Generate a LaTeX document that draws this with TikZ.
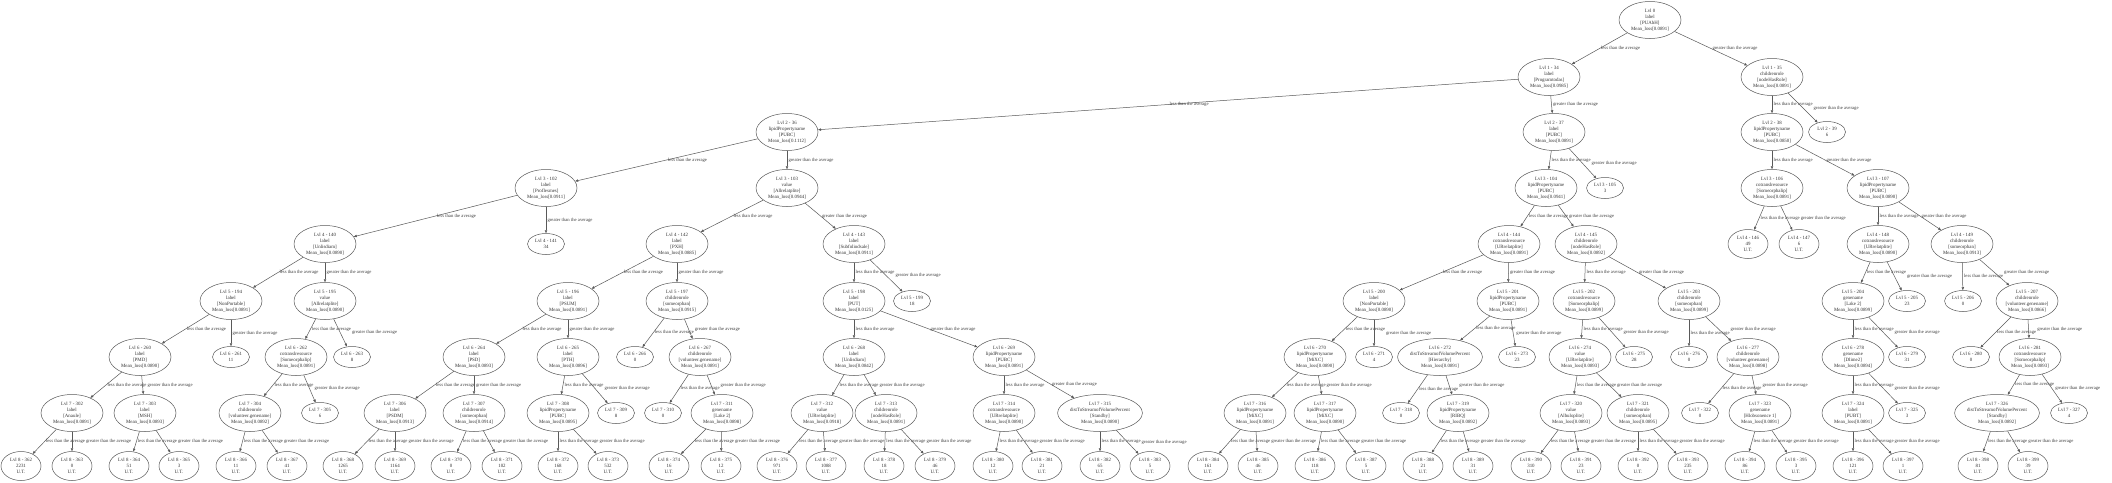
\documentclass[tikz,border=0pt]{standalone}
\usepackage{fontspec}
\setmainfont{Liberation Serif}
\usetikzlibrary{shapes.geometric,arrows.meta,calc}
\newcommand{\mytxt}[5]{Lvl #1 - #2\\#3\\{}[#4]\\Mean\_loss[#5]}
\newcommand{\myleaf}[3]{Lvl #1 - #2\\#3}
\newcommand{\myut}[3]{Lvl #1 - #2\\#3\\U.T.}
% parent, less child, greater child
\newcommand{\Pair}[3]{%
  \draw[edge] (#1) -- node[elab] (#2lab) {less than the average} (#2);
  \draw[edge] (#1) -- coordinate[pos=0.5] (#3mid) (#3);
  \path let \p1=(#2lab.east), \p2=(#3mid) in
    node[elabg] (#3lab) at ({max(\x1,\x2+1pt)*1pt},\y2) {greater than the average};
}
\tikzset{
  base/.style={ellipse, draw=black!65, line width=0.5pt, inner sep=0pt, align=center, text=black!80,
    font=\fontsize{4.9}{5.9}\selectfont},
  inode/.style={base, minimum width=62pt, minimum height=37pt},
  leaf/.style={base, minimum width=37pt, minimum height=21pt},
  utleaf/.style={base, minimum width=40pt, minimum height=29pt},
  edge/.style={draw=black!65, line width=0.5pt, -{Triangle[length=3pt,width=2.4pt]}},
  elabg/.style={anchor=west, inner sep=0.3pt, text=black!75,
    font=\fontsize{4.7}{5.9}\selectfont},
  elab/.style={elabg, pos=0.5, xshift=1pt}
}
\begin{document}
\begin{tikzpicture}[x=1pt,y=-1pt]
\useasboundingbox[fill=white] (0,0) rectangle (2112,482);
% level 0
\node[inode] (n0) at (1650,20) {Lvl 0\\label\\{}[PUAbH]\\Mean\_loss[0.0891]};
% level 1
\node[inode] (n34) at (1549,77) {\mytxt{1}{34}{label}{Programtodas}{0.0985}};
\node[inode] (n35) at (1772,77) {\mytxt{1}{35}{childrenrole}{nodeHasRole}{0.0891}};
% level 2
\node[inode] (n36) at (787,132) {\mytxt{2}{36}{lipidPropertyname}{PUBC}{0.1112}};
\node[inode] (n37) at (1554,132) {\mytxt{2}{37}{label}{PUBC}{0.0891}};
\node[inode] (n38) at (1772,132) {\mytxt{2}{38}{lipidPropertyname}{PUBC}{0.0850}};
\node[leaf] (n39) at (1827,132) {\myleaf{2}{39}{6}};
% level 3
\node[inode] (n102) at (546,188) {\mytxt{3}{102}{label}{Proflesmes}{0.0911}};
\node[inode] (n103) at (787,188) {\mytxt{3}{103}{value}{Allrelatplite}{0.0944}};
\node[inode] (n104) at (1546,188) {\mytxt{3}{104}{lipidPropertyname}{PUBC}{0.0941}};
\node[leaf] (n105) at (1605,188) {\myleaf{3}{105}{3}};
\node[inode] (n106) at (1772,188) {\mytxt{3}{106}{cotranslresource}{Someorphalip}{0.0891}};
\node[inode] (n107) at (1878,188) {\mytxt{3}{107}{lipidPropertyname}{PUBC}{0.0890}};
% level 4
\node[inode] (n140) at (325,244) {\mytxt{4}{140}{label}{Unlisdiam}{0.0890}};
\node[leaf] (n141) at (546,244) {\myleaf{4}{141}{34}};
\node[inode] (n142) at (677,244) {\mytxt{4}{142}{label}{PXH}{0.0885}};
\node[inode] (n143) at (854,244) {\mytxt{4}{143}{label}{Subfoliodsale}{0.0911}};
\node[inode] (n144) at (1509,244) {\mytxt{4}{144}{cotranslresource}{URrelatplite}{0.0891}};
\node[inode] (n145) at (1586,244) {\mytxt{4}{145}{childrenrole}{nodeHasRole}{0.0892}};
\node[utleaf] (n146) at (1748,244) {\myut{4}{146}{49}};
\node[utleaf] (n147) at (1799,244) {\myut{4}{147}{6}};
\node[inode] (n148) at (1878,244) {\mytxt{4}{148}{cotranslresource}{URrelatplite}{0.0890}};
\node[inode] (n149) at (1962,244) {\mytxt{4}{149}{childrenrole}{someorphan}{0.0913}};
% level 5
\node[inode] (n194) at (231,301) {\mytxt{5}{194}{label}{NonPortable}{0.0891}};
\node[inode] (n195) at (325,301) {\mytxt{5}{195}{value}{Allrelatplite}{0.0890}};
\node[inode] (n196) at (568,301) {\mytxt{5}{196}{label}{PSUM}{0.0891}};
\node[inode] (n197) at (677,301) {\mytxt{5}{197}{childrenrole}{someorphan}{0.0915}};
\node[inode] (n198) at (854,301) {\mytxt{5}{198}{label}{PUT}{0.0125}};
\node[leaf] (n199) at (912,301) {\myleaf{5}{199}{18}};
\node[inode] (n200) at (1374,301) {\mytxt{5}{200}{label}{NonPortable}{0.0890}};
\node[inode] (n201) at (1508,301) {\mytxt{5}{201}{lipidPropertyname}{PUBC}{0.0891}};
\node[inode] (n202) at (1584,301) {\mytxt{5}{202}{cotranslresource}{Someorphalip}{0.0899}};
\node[inode] (n203) at (1689,301) {\mytxt{5}{203}{childrenrole}{someorphan}{0.0899}};
\node[inode] (n204) at (1853,301) {\mytxt{5}{204}{genename}{Lake 2}{0.0899}};
\node[leaf] (n205) at (1907,301) {\myleaf{5}{205}{23}};
\node[leaf] (n206) at (1963,301) {\myleaf{5}{206}{0}};
\node[inode] (n207) at (2027,301) {\mytxt{5}{207}{childrenrole}{volunteer.genename}{0.0866}};
% level 6
\node[inode] (n260) at (140,357) {\mytxt{6}{260}{label}{PMD}{0.0890}};
\node[leaf] (n261) at (231,357) {\myleaf{6}{261}{11}};
\node[inode] (n262) at (296,357) {\mytxt{6}{262}{cotranslresource}{Someorphalip}{0.0891}};
\node[leaf] (n263) at (352,357) {\myleaf{6}{263}{8}};
\node[inode] (n264) at (474,357) {\mytxt{6}{264}{label}{PSD}{0.0893}};
\node[inode] (n265) at (568,357) {\mytxt{6}{265}{label}{PTH}{0.0896}};
\node[leaf] (n266) at (635,357) {\myleaf{6}{266}{0}};
\node[inode] (n267) at (700,357) {\mytxt{6}{267}{childrenrole}{volunteer.genename}{0.0891}};
\node[inode] (n268) at (854,357) {\mytxt{6}{268}{label}{Unlisdiam}{0.0842}};
\node[inode] (n269) at (1004,357) {\mytxt{6}{269}{lipidPropertyname}{PUBC}{0.0891}};
\node[inode] (n270) at (1315,357) {\mytxt{6}{270}{lipidPropertyname}{MiXC}{0.0890}};
\node[leaf] (n271) at (1374,357) {\myleaf{6}{271}{4}};
\node[inode] (n272) at (1440,357) {\mytxt{6}{272}{distToStreamofVolumePercent}{Hierarchy}{0.0891}};
\node[leaf] (n273) at (1517,357) {\myleaf{6}{273}{23}};
\node[inode] (n274) at (1580,357) {\mytxt{6}{274}{value}{URrelatplite}{0.0893}};
\node[leaf] (n275) at (1634,357) {\myleaf{6}{275}{28}};
\node[leaf] (n276) at (1689,357) {\myleaf{6}{276}{0}};
\node[inode] (n277) at (1748,357) {\mytxt{6}{277}{childrenrole}{volunteer.genename}{0.0898}};
\node[inode] (n278) at (1853,357) {\mytxt{6}{278}{genename}{Dlime2}{0.0894}};
\node[leaf] (n279) at (1907,357) {\myleaf{6}{279}{31}};
\node[leaf] (n280) at (1971,357) {\myleaf{6}{280}{0}};
\node[inode] (n281) at (2030,357) {\mytxt{6}{281}{cotranslresource}{Someorphalip}{0.0893}};
% level 7
\node[inode] (n302) at (72,413) {\mytxt{7}{302}{label}{Anaule}{0.0891}};
\node[inode] (n303) at (145,413) {\mytxt{7}{303}{label}{MSH}{0.0893}};
\node[inode] (n304) at (250,413) {\mytxt{7}{304}{childrenrole}{volunteer.genename}{0.0892}};
\node[leaf] (n305) at (320,413) {\myleaf{7}{305}{6}};
\node[inode] (n306) at (395,413) {\mytxt{7}{306}{label}{PSDM}{0.0913}};
\node[inode] (n307) at (474,413) {\mytxt{7}{307}{childrenrole}{someorphan}{0.0914}};
\node[inode] (n308) at (558,413) {\mytxt{7}{308}{lipidPropertyname}{PUBC}{0.0895}};
\node[leaf] (n309) at (616,413) {\myleaf{7}{309}{8}};
\node[leaf] (n310) at (663,413) {\myleaf{7}{310}{0}};
\node[inode] (n311) at (722,413) {\mytxt{7}{311}{genename}{Lake 2}{0.0898}};
\node[inode] (n312) at (822,413) {\mytxt{7}{312}{value}{URrelatplite}{0.0918}};
\node[inode] (n313) at (886,413) {\mytxt{7}{313}{childrenrole}{nodeHasRole}{0.0891}};
\node[inode] (n314) at (1004,413) {\mytxt{7}{314}{cotranslresource}{URrelatplite}{0.0890}};
\node[inode] (n315) at (1100,413) {\mytxt{7}{315}{distToStreamofVolumePercent}{Standby}{0.0890}};
\node[inode] (n316) at (1255,413) {\mytxt{7}{316}{lipidPropertyname}{MiXC}{0.0891}};
\node[inode] (n317) at (1325,413) {\mytxt{7}{317}{lipidPropertyname}{MiXC}{0.0890}};
\node[leaf] (n318) at (1401,413) {\myleaf{7}{318}{0}};
\node[inode] (n319) at (1458,413) {\mytxt{7}{319}{lipidPropertyname}{RIBQ}{0.0892}};
\node[inode] (n320) at (1571,413) {\mytxt{7}{320}{value}{Albuloplite}{0.0893}};
\node[inode] (n321) at (1638,413) {\mytxt{7}{321}{childrenrole}{someorphan}{0.0895}};
\node[leaf] (n322) at (1700,413) {\myleaf{7}{322}{0}};
\node[inode] (n323) at (1760,413) {\mytxt{7}{323}{genename}{Hlobsonence 1}{0.0891}};
\node[inode] (n324) at (1853,413) {\mytxt{7}{324}{label}{PUBT}{0.0891}};
\node[leaf] (n325) at (1907,413) {\myleaf{7}{325}{3}};
\node[inode] (n326) at (1997,413) {\mytxt{7}{326}{distToStreamofVolumePercent}{Standby}{0.0892}};
\node[leaf] (n327) at (2069,413) {\myleaf{7}{327}{4}};
% level 8
\node[utleaf] (n362) at (21,466) {\myut{8}{362}{2231}};
\node[utleaf] (n363) at (72,466) {\myut{8}{363}{0}};
\node[utleaf] (n364) at (129,466) {\myut{8}{364}{51}};
\node[utleaf] (n365) at (179,466) {\myut{8}{365}{3}};
\node[utleaf] (n366) at (236,466) {\myut{8}{366}{11}};
\node[utleaf] (n367) at (287,466) {\myut{8}{367}{41}};
\node[utleaf] (n368) at (343,466) {\myut{8}{368}{1265}};
\node[utleaf] (n369) at (395,466) {\myut{8}{369}{1164}};
\node[utleaf] (n370) at (451,466) {\myut{8}{370}{0}};
\node[utleaf] (n371) at (502,466) {\myut{8}{371}{102}};
\node[utleaf] (n372) at (558,466) {\myut{8}{372}{168}};
\node[utleaf] (n373) at (608,466) {\myut{8}{373}{532}};
\node[utleaf] (n374) at (669,466) {\myut{8}{374}{16}};
\node[utleaf] (n375) at (721,466) {\myut{8}{375}{12}};
\node[utleaf] (n376) at (777,466) {\myut{8}{376}{971}};
\node[utleaf] (n377) at (826,466) {\myut{8}{377}{1088}};
\node[utleaf] (n378) at (884,466) {\myut{8}{378}{18}};
\node[utleaf] (n379) at (935,466) {\myut{8}{379}{46}};
\node[utleaf] (n380) at (993,466) {\myut{8}{380}{12}};
\node[utleaf] (n381) at (1042,466) {\myut{8}{381}{21}};
\node[utleaf] (n382) at (1100,466) {\myut{8}{382}{65}};
\node[utleaf] (n383) at (1150,466) {\myut{8}{383}{5}};
\node[utleaf] (n384) at (1208,466) {\myut{8}{384}{161}};
\node[utleaf] (n385) at (1258,466) {\myut{8}{385}{46}};
\node[utleaf] (n386) at (1315,466) {\myut{8}{386}{118}};
\node[utleaf] (n387) at (1366,466) {\myut{8}{387}{5}};
\node[utleaf] (n388) at (1423,466) {\myut{8}{388}{21}};
\node[utleaf] (n389) at (1473,466) {\myut{8}{389}{31}};
\node[utleaf] (n390) at (1531,466) {\myut{8}{390}{310}};
\node[utleaf] (n391) at (1581,466) {\myut{8}{391}{23}};
\node[utleaf] (n392) at (1638,466) {\myut{8}{392}{0}};
\node[utleaf] (n393) at (1688,466) {\myut{8}{393}{235}};
\node[utleaf] (n394) at (1745,466) {\myut{8}{394}{86}};
\node[utleaf] (n395) at (1796,466) {\myut{8}{395}{3}};
\node[utleaf] (n396) at (1853,466) {\myut{8}{396}{121}};
\node[utleaf] (n397) at (1903,466) {\myut{8}{397}{1}};
\node[utleaf] (n398) at (1978,466) {\myut{8}{398}{81}};
\node[utleaf] (n399) at (2028,466) {\myut{8}{399}{39}};
% edges
\Pair{n0}{n34}{n35}
\Pair{n34}{n36}{n37}
\Pair{n35}{n38}{n39}
\Pair{n36}{n102}{n103}
\Pair{n37}{n104}{n105}
\Pair{n38}{n106}{n107}
\Pair{n102}{n140}{n141}
\Pair{n103}{n142}{n143}
\Pair{n104}{n144}{n145}
\Pair{n106}{n146}{n147}
\Pair{n107}{n148}{n149}
\Pair{n140}{n194}{n195}
\Pair{n142}{n196}{n197}
\Pair{n143}{n198}{n199}
\Pair{n144}{n200}{n201}
\Pair{n145}{n202}{n203}
\Pair{n148}{n204}{n205}
\Pair{n149}{n206}{n207}
\Pair{n194}{n260}{n261}
\Pair{n195}{n262}{n263}
\Pair{n196}{n264}{n265}
\Pair{n197}{n266}{n267}
\Pair{n198}{n268}{n269}
\Pair{n200}{n270}{n271}
\Pair{n201}{n272}{n273}
\Pair{n202}{n274}{n275}
\Pair{n203}{n276}{n277}
\Pair{n204}{n278}{n279}
\Pair{n207}{n280}{n281}
\Pair{n260}{n302}{n303}
\Pair{n262}{n304}{n305}
\Pair{n264}{n306}{n307}
\Pair{n265}{n308}{n309}
\Pair{n267}{n310}{n311}
\Pair{n268}{n312}{n313}
\Pair{n269}{n314}{n315}
\Pair{n270}{n316}{n317}
\Pair{n272}{n318}{n319}
\Pair{n274}{n320}{n321}
\Pair{n277}{n322}{n323}
\Pair{n278}{n324}{n325}
\Pair{n281}{n326}{n327}
\Pair{n302}{n362}{n363}
\Pair{n303}{n364}{n365}
\Pair{n304}{n366}{n367}
\Pair{n306}{n368}{n369}
\Pair{n307}{n370}{n371}
\Pair{n308}{n372}{n373}
\Pair{n311}{n374}{n375}
\Pair{n312}{n376}{n377}
\Pair{n313}{n378}{n379}
\Pair{n314}{n380}{n381}
\Pair{n315}{n382}{n383}
\Pair{n316}{n384}{n385}
\Pair{n317}{n386}{n387}
\Pair{n319}{n388}{n389}
\Pair{n320}{n390}{n391}
\Pair{n321}{n392}{n393}
\Pair{n323}{n394}{n395}
\Pair{n324}{n396}{n397}
\Pair{n326}{n398}{n399}
\end{tikzpicture}
\end{document}
